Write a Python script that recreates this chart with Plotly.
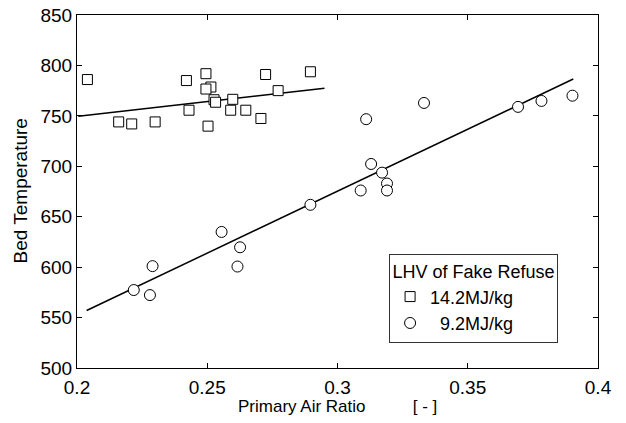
import plotly.graph_objects as go

# 14.2 MJ/kg series (squares)
sq_x = [0.204, 0.216, 0.221, 0.230, 0.242, 0.243, 0.2495, 0.2514, 0.2495, 0.2503,
        0.2526, 0.2532, 0.2598, 0.259, 0.2648, 0.2706, 0.2724, 0.2772, 0.2896]
sq_y = [786, 744, 742, 744, 785, 755.6, 791.8, 778.6, 776.6, 739.8,
        766, 763.5, 766.4, 755.6, 755.6, 747.4, 791, 775, 793.7]

# 9.2 MJ/kg series (circles)
ci_x = [0.2218, 0.228, 0.229, 0.2555, 0.2626, 0.2616, 0.2896, 0.3089, 0.311, 0.3129,
        0.3171, 0.319, 0.319, 0.3332, 0.3693, 0.3783, 0.3902]
ci_y = [577.3, 572.3, 601, 634.9, 619.7, 600.6, 661.8, 676, 746.7, 702.3,
        693.7, 682.9, 676, 762.8, 758.9, 764.8, 770]

# trend line endpoints
sq_fit_x = [0.2005, 0.295]
sq_fit_y = [749.5, 777.3]
ci_fit_x = [0.2037, 0.3905]
ci_fit_y = [557, 786.5]

legend_title = "LHV of Fake Refuse"
sq_name = "14.2MJ/kg"
ci_name = "\u00a0\u00a09.2MJ/kg"
x_title = "Primary Air Ratio\u00a0\u00a0\u00a0\u00a0\u00a0\u00a0\u00a0\u00a0\u00a0\u00a0[ - ]"
y_title = "Bed Temperature"

FONT = "Arial, Liberation Sans, Helvetica, sans-serif"

fig = go.Figure()
fig.add_trace(go.Scatter(x=sq_fit_x, y=sq_fit_y, mode="lines",
                         line=dict(color="black", width=1.5), showlegend=False,
                         hoverinfo="skip"))
fig.add_trace(go.Scatter(x=ci_fit_x, y=ci_fit_y, mode="lines",
                         line=dict(color="black", width=1.5), showlegend=False,
                         hoverinfo="skip"))
fig.add_trace(go.Scatter(x=sq_x, y=sq_y, mode="markers", name=sq_name,
                         marker=dict(symbol="square", size=10, color="white",
                                     line=dict(color="black", width=1))))
fig.add_trace(go.Scatter(x=ci_x, y=ci_y, mode="markers", name=ci_name,
                         marker=dict(symbol="circle", size=11, color="white",
                                     line=dict(color="black", width=1))))

axis_common = dict(showline=True, linecolor="black", linewidth=1, mirror="ticks",
                   ticks="inside", ticklen=5, tickcolor="black", tickwidth=1,
                   showgrid=False, zeroline=False, automargin=False,
                   tickfont=dict(family=FONT, size=19, color="black"))

fig.update_xaxes(range=[0.2, 0.4], dtick=0.05, tick0=0.2, ticklabelstandoff=2,
                 **axis_common)
fig.update_yaxes(range=[500, 850], dtick=50, tick0=500,
                 **axis_common)

fig.add_annotation(text=x_title, xref="paper", yref="paper", x=0.5, y=0,
                   xanchor="center", yanchor="middle", yshift=-38, showarrow=False,
                   font=dict(family=FONT, size=17, color="black"))
fig.add_annotation(text=y_title, xref="paper", yref="paper", x=0, y=0.5,
                   xanchor="center", yanchor="middle", xshift=-57, textangle=-90,
                   showarrow=False, font=dict(family=FONT, size=19, color="black"))

fig.update_layout(
    width=626, height=423,
    margin=dict(l=77, r=28, t=15, b=55),
    paper_bgcolor="white", plot_bgcolor="white",
    font=dict(family=FONT, color="black"),
    legend=dict(x=0.599, y=0.323, xanchor="left", yanchor="top",
                bgcolor="white", bordercolor="#333333", borderwidth=1,
                font=dict(family=FONT, size=18, color="black"),
                title=dict(text=legend_title, side="top center",
                           font=dict(family=FONT, size=18, color="black")),
                itemwidth=30, tracegroupgap=0),
)

fig.write_html("out.html", config={"displayModeBar": False},
               post_script="document.body.style.margin='0';document.body.style.overflow='hidden';")
